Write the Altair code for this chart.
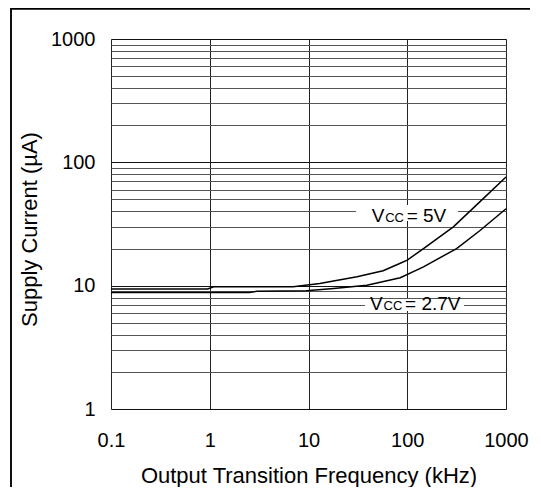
import altair as alt
import pandas as pd

# Curve data
x_5v = [0.1, 0.95, 1.1, 7, 13, 31, 57, 85, 100, 146, 293, 546, 1000]
y_5v = [9.4, 9.4, 9.8, 9.8, 10.4, 11.8, 13.2, 15.2, 16.1, 20, 30, 48, 76]
x_27 = [0.1, 2.5, 3.0, 9.5, 18, 39, 85, 146, 316, 546, 1000]
y_27 = [8.8, 8.8, 9.0, 9.1, 9.5, 10.1, 11.6, 14.2, 20, 28, 42]

# Axis ticks
x_ticks = [0.1, 1, 10, 100, 1000]
y_ticks = [m * d for d in [1, 10, 100] for m in range(1, 10)] + [1000]
y_major = [1, 10, 100, 1000]

# Curve labels
label_x = [43.6, 42]
label_y = [33.0, 6.34]
label_rest = ["= 5V", "= 2.7V"]
box_x1 = [30.3, 37.3]
box_x2 = [326, 376]
box_y1 = [33.4, 6.22]
box_y2 = [45.1, 7.79]

FONT = "Liberation Sans"

curves = pd.concat([
    pd.DataFrame({"f": x_5v, "i": y_5v, "s": "5V"}),
    pd.DataFrame({"f": x_27, "i": y_27, "s": "2.7V"}),
])
labels = pd.DataFrame({"x": label_x, "y": label_y, "rest": label_rest})
boxes = pd.DataFrame({"x1": box_x1, "x2": box_x2, "y1": box_y1, "y2": box_y2})

major_test = " || ".join(f"datum.value == {v}" for v in y_major)

xscale = alt.Scale(type="log", domain=[0.1, 1000], nice=False)
yscale = alt.Scale(type="log", domain=[1, 1000], nice=False)

xaxis = alt.Axis(
    values=x_ticks, format="~g", ticks=False, domain=False,
    labelFont=FONT, labelFontSize=20, labelColor="black", labelPadding=21,
    labelFlush=False, labelOverlap=False,
    gridColor="#222", gridWidth=1, gridOpacity=1,
    title="Output Transition Frequency (kHz)", titleFont=FONT, titleFontSize=22,
    titleFontWeight="normal", titleColor="black",
    titleY=66, titleBaseline="middle",
)
yaxis = alt.Axis(
    values=y_ticks, format="~g", ticks=False, domain=False,
    labelExpr=f"({major_test}) ? datum.label : ''",
    labelFont=FONT, labelFontSize=20, labelColor="black", labelPadding=16,
    labelFlush=False, labelOverlap=False,
    gridColor={"condition": {"test": major_test, "value": "#111"}, "value": "#555"},
    gridWidth=1, gridOpacity=1,
    title="Supply Current (µA)", titleFont=FONT, titleFontSize=22,
    titleFontWeight="normal", titleColor="black",
    titleAngle=270, titleX=-82, titleY=190, titleBaseline="middle", titleAlign="center",
)

lines = alt.Chart(curves).mark_line(color="black", strokeWidth=1.5).encode(
    x=alt.X("f:Q", scale=xscale, axis=xaxis),
    y=alt.Y("i:Q", scale=yscale, axis=yaxis),
    detail="s:N",
)

box = alt.Chart(boxes).mark_rect(color="white").encode(
    x=alt.X("x1:Q", scale=xscale), x2="x2:Q",
    y=alt.Y("y1:Q", scale=yscale), y2="y2:Q",
)

base_t = alt.Chart(labels).encode(
    x=alt.X("x:Q", scale=xscale), y=alt.Y("y:Q", scale=yscale)
)
t_v = base_t.mark_text(text="V", align="left", baseline="alphabetic",
                       font=FONT, fontSize=19, color="black")
t_cc = base_t.mark_text(text="CC", align="left", baseline="alphabetic",
                        font=FONT, fontSize=13, color="black", dx=13.5)
t_rest = base_t.mark_text(align="left", baseline="alphabetic",
                          font=FONT, fontSize=19, color="black", dx=35).encode(text="rest:N")

border_top = alt.Chart(labels).mark_rule(color="black", strokeWidth=1.5).encode(
    x=alt.value(-100), x2=alt.value(440), y=alt.value(-30.2))
border_left = alt.Chart(labels).mark_rule(color="black", strokeWidth=1.5).encode(
    x=alt.value(-100), y=alt.value(-31), y2=alt.value(460))

chart = alt.layer(
    box, lines, t_v, t_cc, t_rest, border_top, border_left
).properties(
    width=395, height=370,
    autosize=alt.AutoSizeParams(type="none"),
    padding={"left": 103, "top": 31, "right": 24, "bottom": 78},
).configure_view(
    stroke="black", strokeWidth=2
).configure(background="white")

chart.save("out.html", embed_options={"renderer": "svg", "actions": False})
